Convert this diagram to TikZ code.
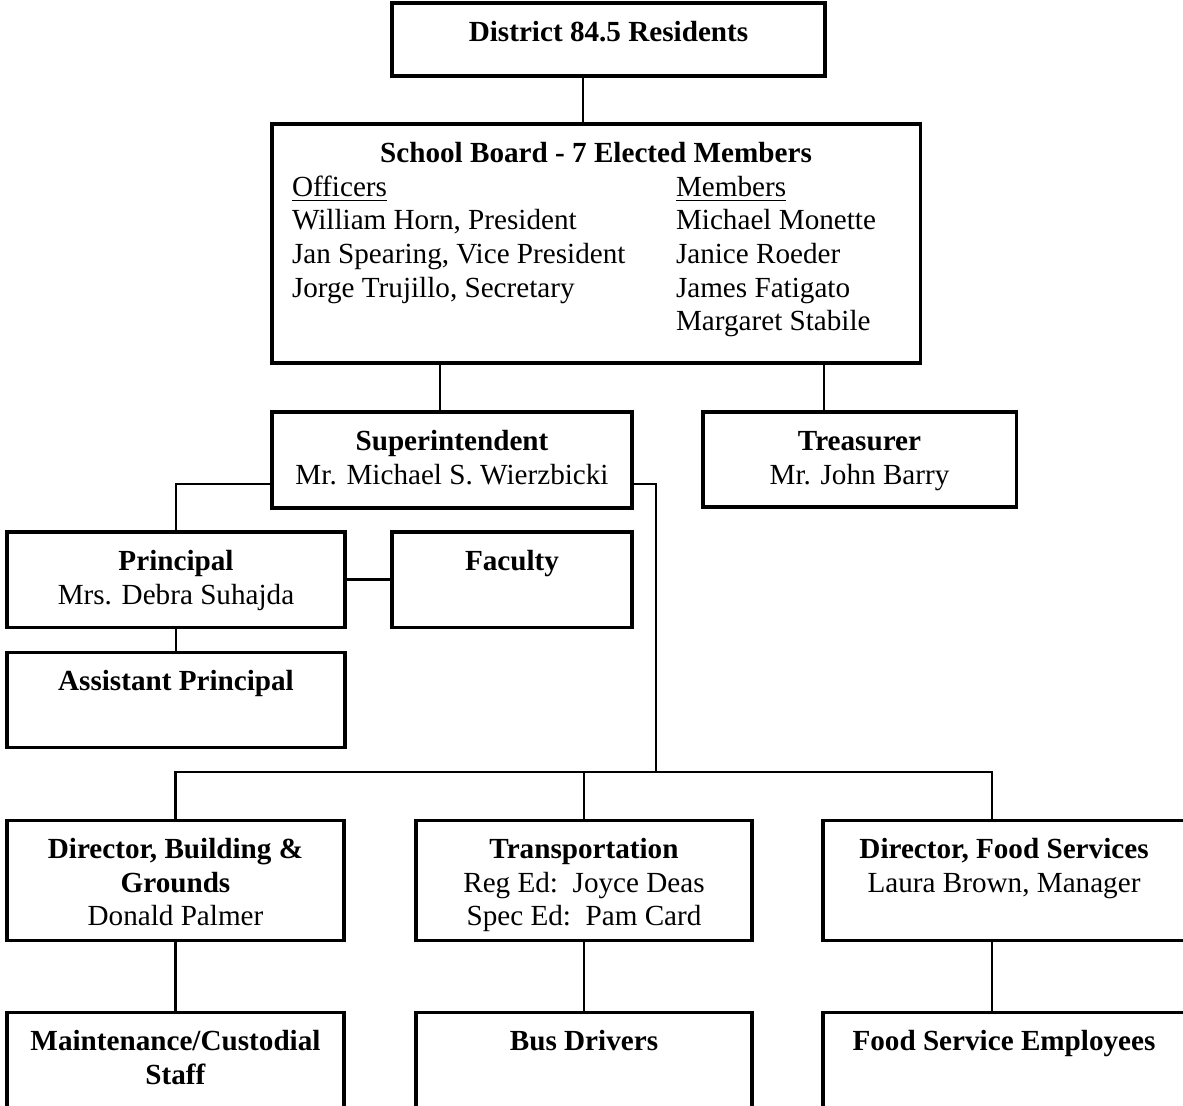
\documentclass[tikz,border=0pt]{standalone}
\usepackage{fontspec}
\setmainfont{Liberation Serif}
\usepackage{tikz}

\newlength{\pxu}
\setlength{\pxu}{0.4115pt}
% box text: width, height (in px), contents set at the top
\newcommand{\boxtext}[3]{\parbox[t][#2\pxu][t]{#1\pxu}{\centering\rule{0pt}{16pt}#3}}

\tikzset{
    orgbox/.style={draw, line width=1.25pt, inner sep=0pt, outer sep=0pt, anchor=north west},
    link/.style={line width=1.2pt}
}

\begin{document}
\begin{tikzpicture}[x=0.4115pt, y=-0.4115pt, font=\fontsize{12pt}{13.8pt}\selectfont]
    \clip (0,0) rectangle (1183,1105);

    % Top levels
    \node[orgbox] (res) at (392,3) {\boxtext{433}{73}{\textbf{District 84.5 Residents}}};
    \node[orgbox] (board) at (272,124) {\boxtext{648}{239}{\textbf{School Board - 7 Elected Members}\par
        \raggedright\hspace*{20\pxu}%
        \parbox[t]{384\pxu}{\underline{Officers}\\William Horn, President\\Jan Spearing, Vice President\\Jorge Trujillo, Secretary}%
        \parbox[t]{230\pxu}{\underline{Members}\\Michael Monette\\Janice Roeder\\James Fatigato\\Margaret Stabile}}};
    \node[orgbox] (sup) at (272,412) {\boxtext{360}{96}{\textbf{Superintendent}\\Mr. Michael S. Wierzbicki}};
    \node[orgbox] (treas) at (703,412) {\boxtext{313}{95}{\textbf{Treasurer}\\Mr. John Barry}};

    % School
    \node[orgbox] (prin) at (7,532) {\boxtext{338}{95}{\textbf{Principal}\\Mrs. Debra Suhajda}};
    \node[orgbox] (fac) at (392,532) {\boxtext{240}{95}{\textbf{Faculty}}};
    \node[orgbox] (asst) at (7,652) {\boxtext{338}{95}{\textbf{Assistant Principal}}};

    % Services
    \node[orgbox] (bg) at (7,820) {\boxtext{337}{120}{\textbf{Director, Building \&\\Grounds}\\Donald Palmer}};
    \node[orgbox] (trans) at (416,820) {\boxtext{336}{120}{\textbf{Transportation}\\Reg Ed:\ \ Joyce Deas\\Spec Ed:\ \ Pam Card}};
    \node[orgbox] (food) at (823,820) {\boxtext{362}{120}{\textbf{Director, Food Services}\\Laura Brown, Manager}};
    \node[orgbox] (maint) at (7,1012) {\boxtext{337}{120}{\textbf{Maintenance/Custodial\\Staff}}};
    \node[orgbox] (bus) at (416,1012) {\boxtext{336}{120}{\textbf{Bus Drivers}}};
    \node[orgbox] (foodemp) at (823,1012) {\boxtext{362}{120}{\textbf{Food Service Employees}}};

    % Connectors
    \coordinate (cTop) at (583,0);
    \coordinate (cSup) at (440,0);
    \coordinate (cTrs) at (824,0);
    \coordinate (cArm) at (0,484);
    \coordinate (cBus) at (656,772);
    \coordinate (cFood) at (992,0);

    \draw[link] (res.south -| cTop) -- (board.north -| cTop);
    \draw[link] (board.south -| cSup) -- (sup.north -| cSup);
    \draw[link] (board.south -| cTrs) -- (treas.north -| cTrs);
    \draw[link] (sup.west |- cArm) -| (prin.north);
    \draw[link] (prin.east) -- (fac.west);
    \draw[link] (prin.south) -- (asst.north);
    \draw[link] (sup.east |- cArm) -| (cBus);
    \draw[link] (bg.north) |- (cBus) -| (food.north -| cFood);
    \draw[link] (trans.north) -- (trans.north |- cBus);
    \draw[link] (bg.south) -- (maint.north);
    \draw[link] (trans.south) -- (bus.north);
    \draw[link] (food.south -| cFood) -- (foodemp.north -| cFood);
\end{tikzpicture}
\end{document}
